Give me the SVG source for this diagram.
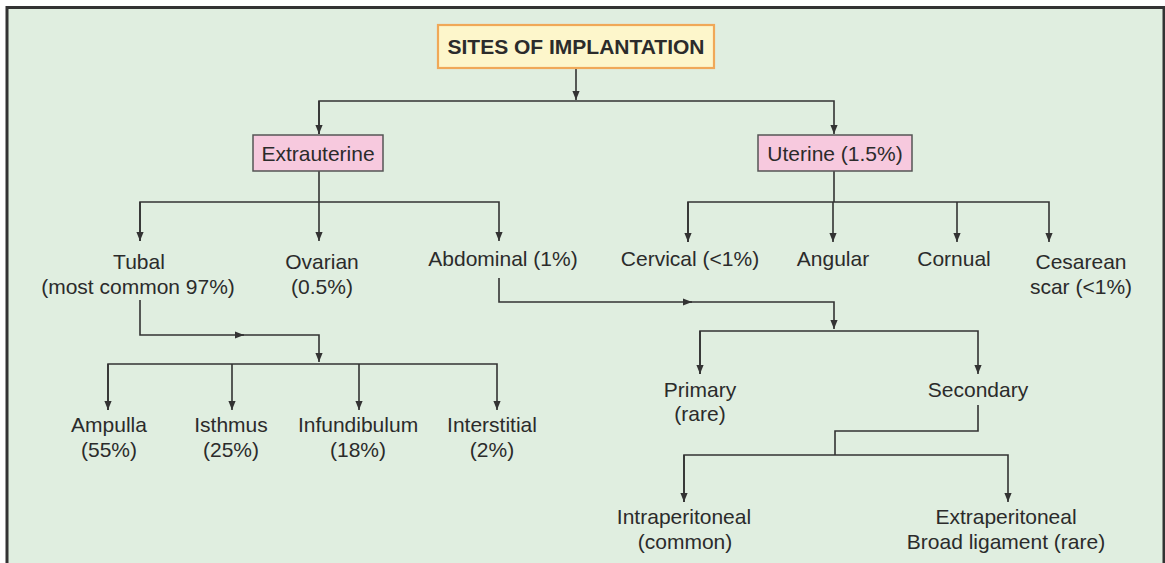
<svg xmlns="http://www.w3.org/2000/svg" width="1165" height="563" viewBox="0 0 1165 563">
<style>
.t{font-family:"Liberation Sans",Arial,sans-serif;font-size:21px;fill:#2b2b2b;text-anchor:middle}
.b{font-weight:bold}
.c{fill:none;stroke:#333;stroke-width:1.6}
.pink{fill:#f7c9de;stroke:#555;stroke-width:1.5}
</style>
<defs>
<marker id="ah" viewBox="0 0 10 10" refX="10" refY="5" markerWidth="9" markerHeight="9" markerUnits="userSpaceOnUse" orient="auto">
<path d="M0,1 L10,5 L0,9 z" fill="#333"/>
</marker>
</defs>
<rect x="0" y="0" width="1165" height="563" fill="#fff"/>
<rect x="7" y="7.5" width="1157" height="570" fill="#e0eee0" stroke="#333" stroke-width="3"/>

<g id="connectors">
<path class="c" d="M576,69 V100" marker-end="url(#ah)"/>
<path class="c" d="M319,134 V101 H834 V134" marker-end="url(#ah)"/>
<path class="c" d="M319,101 V134" marker-end="url(#ah)"/>
<path class="c" d="M319,171 V202"/>
<path class="c" d="M140,241 V202 H499 V241" marker-end="url(#ah)"/>
<path class="c" d="M140,202 V241" marker-end="url(#ah)"/>
<path class="c" d="M319,202 V241" marker-end="url(#ah)"/>
<path class="c" d="M834,171 V202"/>
<path class="c" d="M688,242 V202 H1049 V242" marker-end="url(#ah)"/>
<path class="c" d="M688,202 V242" marker-end="url(#ah)"/>
<path class="c" d="M833,202 V242" marker-end="url(#ah)"/>
<path class="c" d="M957,202 V242" marker-end="url(#ah)"/>
<path class="c" d="M140,300 V335 H244" marker-end="url(#ah)"/>
<path class="c" d="M240,335 H319 V362" marker-end="url(#ah)"/>
<path class="c" d="M108,410 V364 H497 V410" marker-end="url(#ah)"/>
<path class="c" d="M108,364 V410" marker-end="url(#ah)"/>
<path class="c" d="M232,364 V410" marker-end="url(#ah)"/>
<path class="c" d="M359,364 V410" marker-end="url(#ah)"/>
<path class="c" d="M499,278 V302 H692" marker-end="url(#ah)"/>
<path class="c" d="M688,302 H834 V329" marker-end="url(#ah)"/>
<path class="c" d="M700,374 V331 H978 V374" marker-end="url(#ah)"/>
<path class="c" d="M700,331 V374" marker-end="url(#ah)"/>
<path class="c" d="M978,405 V431 H835 V455"/>
<path class="c" d="M684,502 V455 H1008 V502" marker-end="url(#ah)"/>
<path class="c" d="M684,455 V502" marker-end="url(#ah)"/>
</g>

<g id="sites">
<rect x="438" y="25" width="276" height="43" fill="#fdf6cb" stroke="#f0a858" stroke-width="2.2"/>
<text class="t b" x="576" y="54">SITES OF IMPLANTATION</text>
</g>
<g id="extrauterine">
<rect class="pink" x="253" y="135" width="130" height="36"/>
<text class="t" x="318" y="161">Extrauterine</text>
</g>
<g id="uterine">
<rect class="pink" x="758" y="135" width="154" height="36"/>
<text class="t" x="835" y="161">Uterine (1.5%)</text>
</g>
<g id="tubal"><text class="t" x="139" y="269">Tubal</text><text class="t" x="138" y="294">(most common 97%)</text></g>
<g id="ovarian"><text class="t" x="322" y="269">Ovarian</text><text class="t" x="322" y="294">(0.5%)</text></g>
<g id="abdominal"><text class="t" x="503" y="266">Abdominal (1%)</text></g>
<g id="cervical"><text class="t" x="690" y="266">Cervical (&lt;1%)</text></g>
<g id="angular"><text class="t" x="833" y="266">Angular</text></g>
<g id="cornual"><text class="t" x="954" y="266">Cornual</text></g>
<g id="cesarean"><text class="t" x="1081" y="269">Cesarean</text><text class="t" x="1081" y="294">scar (&lt;1%)</text></g>
<g id="ampulla"><text class="t" x="109" y="432">Ampulla</text><text class="t" x="109" y="457">(55%)</text></g>
<g id="isthmus"><text class="t" x="231" y="432">Isthmus</text><text class="t" x="231" y="457">(25%)</text></g>
<g id="infundibulum"><text class="t" x="358" y="432">Infundibulum</text><text class="t" x="358" y="457">(18%)</text></g>
<g id="interstitial"><text class="t" x="492" y="432">Interstitial</text><text class="t" x="492" y="457">(2%)</text></g>
<g id="primary"><text class="t" x="700" y="397">Primary</text><text class="t" x="700" y="421">(rare)</text></g>
<g id="secondary"><text class="t" x="978" y="397">Secondary</text></g>
<g id="intraperitoneal"><text class="t" x="684" y="524">Intraperitoneal</text><text class="t" x="685" y="549">(common)</text></g>
<g id="extraperitoneal"><text class="t" x="1006" y="524">Extraperitoneal</text><text class="t" x="1006" y="549">Broad ligament (rare)</text></g>
</svg>
